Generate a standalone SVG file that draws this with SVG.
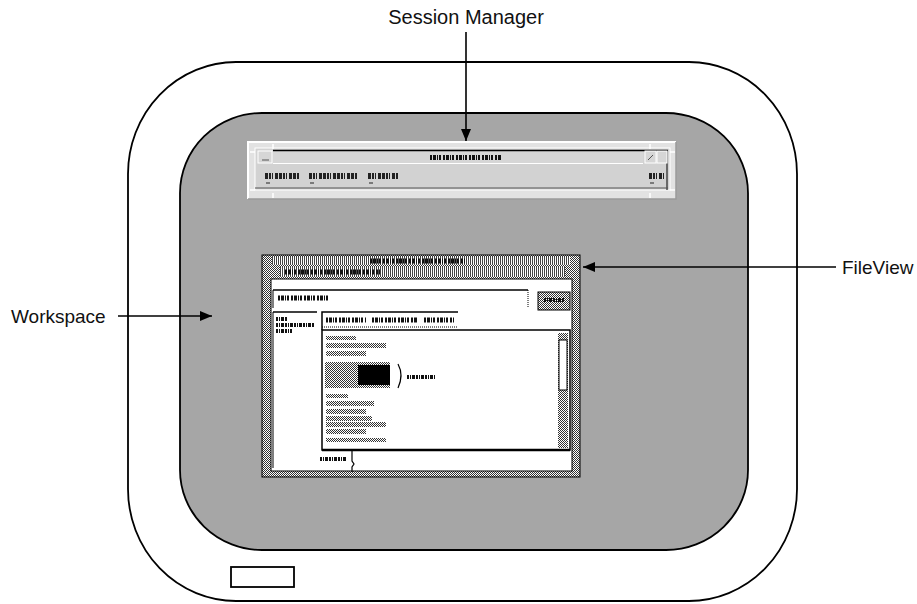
<svg xmlns="http://www.w3.org/2000/svg" width="917" height="604" viewBox="0 0 917 604">
<style>
.lbl{font-family:"Liberation Sans",Arial,sans-serif;font-size:19px;fill:#111}
.frame{fill:#fff;stroke:#000;stroke-width:1.8}
.ws{fill:#a6a6a6;stroke:#000;stroke-width:1.8}
.conn{stroke:#000;stroke-width:1.6;fill:none}
.tx{stroke:#222;stroke-width:6;stroke-dasharray:3,1,2,1,1,2,3,1;fill:none}
.tx5{stroke:#111;stroke-width:5;stroke-dasharray:2,1,3,1,1,1,2,2;fill:none}
.tx4{stroke:#111;stroke-width:4;stroke-dasharray:2,1,1,1,3,1;fill:none}
</style>
<defs>
<marker id="ah" viewBox="0 0 12 10" refX="12" refY="5" markerWidth="12" markerHeight="10" markerUnits="userSpaceOnUse" orient="auto">
<path d="M0,0 L12,5 L0,10 z" fill="#000"/>
</marker>
<pattern id="dith" width="2" height="2" patternUnits="userSpaceOnUse">
<rect width="2" height="2" fill="#fff"/>
<rect width="1" height="1" fill="#333"/>
<rect x="1" y="1" width="1" height="1" fill="#333"/>
</pattern>
<pattern id="vstripe" width="2" height="2" patternUnits="userSpaceOnUse">
<rect width="2" height="2" fill="#fff"/>
<rect width="1" height="2" fill="#444"/>
</pattern>
</defs>

<g id="display">
<rect class="frame" x="128" y="62" width="669" height="539" rx="108" ry="112"/>
<rect x="231" y="567" width="63" height="20" fill="#fff" stroke="#000" stroke-width="1.8"/>
</g>

<g id="workspace">
<rect class="ws" x="180" y="113" width="568" height="437" rx="82" ry="80"/>
</g>

<g id="session-manager">
<rect x="248" y="142" width="428" height="57" fill="#e2e2e2"/>
<path d="M248,199 V142 H676" stroke="#fff" stroke-width="2" fill="none"/>
<path d="M248,199 H676 V142" stroke="#9a9a9a" stroke-width="1.5" fill="none"/>
<rect x="255" y="148" width="415" height="42" fill="#d2d2d2" stroke="#fff" stroke-width="1"/>
<rect x="273" y="150" width="370" height="13" fill="#d6d6d6"/>
<line x1="273" y1="150.5" x2="668" y2="150.5" stroke="#000" stroke-width="1.3"/>
<line x1="667" y1="150" x2="667" y2="190" stroke="#000" stroke-width="1"/>
<rect x="258" y="151" width="14" height="12" fill="#d6d6d6" stroke="#fff" stroke-width="1"/>
<line x1="262" y1="160" x2="269" y2="160" stroke="#555" stroke-width="1"/>
<rect x="645" y="151" width="11" height="12" fill="#d6d6d6" stroke="#fff" stroke-width="1"/>
<rect x="657" y="151" width="10" height="12" fill="#d6d6d6" stroke="#fff" stroke-width="1"/>
<line x1="648" y1="160" x2="653" y2="155" stroke="#555" stroke-width="1"/>
<line x1="273" y1="163.5" x2="643" y2="163.5" stroke="#fff" stroke-width="1"/>
<line x1="255" y1="188" x2="668" y2="188" stroke="#555" stroke-width="1.2"/>
<line class="tx5" x1="430" y1="157.5" x2="502" y2="157.5"/>
<line class="tx" x1="265" y1="176" x2="299" y2="176"/>
<line class="tx" x1="309" y1="176" x2="357" y2="176"/>
<line class="tx" x1="368" y1="176" x2="398" y2="176"/>
<line class="tx" x1="649" y1="176" x2="664" y2="176"/>
<line x1="266" y1="183" x2="270" y2="183" stroke="#222"/>
<line x1="310" y1="183" x2="314" y2="183" stroke="#222"/>
<line x1="369" y1="183" x2="373" y2="183" stroke="#222"/>
<line x1="650" y1="183" x2="654" y2="183" stroke="#222"/>
<path d="M250,152 h5 M250,190 h5 M670,152 h5 M670,190 h5 M273,144 v5 M273,193 v5 M650,144 v5 M650,193 v5" stroke="#fff" stroke-width="1.5"/>
</g>

<g id="fileview">
<rect x="262" y="255" width="318" height="222" fill="url(#dith)" stroke="#000" stroke-width="1"/>
<rect x="272" y="257" width="298" height="8" fill="url(#vstripe)"/>
<rect x="280" y="267" width="285" height="10" fill="url(#vstripe)"/>
<line class="tx5" x1="370" y1="261" x2="465" y2="261"/>
<line class="tx5" x1="285" y1="272" x2="380" y2="272"/>
<rect x="271" y="279" width="301" height="192" fill="#fff" stroke="#000" stroke-width="1"/>
<line x1="273" y1="290" x2="528" y2="290" stroke="#000" stroke-width="1.5"/>
<line x1="273" y1="290" x2="273" y2="308" stroke="#000" stroke-width="1"/>
<line x1="528" y1="290" x2="528" y2="308" stroke="#000" stroke-width="1" stroke-dasharray="1,1"/>
<line class="tx5" x1="278" y1="298" x2="328" y2="298"/>
<rect x="538" y="292" width="32" height="18" fill="url(#dith)" stroke="#000" stroke-width="1"/>
<line class="tx4" x1="544" y1="300" x2="564" y2="300"/>
<line x1="273" y1="312" x2="317" y2="312" stroke="#000" stroke-width="1.5"/>
<line x1="273" y1="312" x2="273" y2="468" stroke="#000" stroke-width="1"/>
<line class="tx4" x1="276" y1="319" x2="288" y2="319"/>
<line class="tx4" x1="276" y1="325" x2="314" y2="325"/>
<line class="tx4" x1="276" y1="331" x2="292" y2="331"/>
<path d="M322,330 V312 H458" stroke="#000" stroke-width="1.5" fill="none"/>
<line x1="322" y1="327" x2="458" y2="327" stroke="#000" stroke-width="1" stroke-dasharray="1,1"/>
<line class="tx5" x1="326" y1="320" x2="366" y2="320"/>
<line class="tx5" x1="372" y1="320" x2="417" y2="320"/>
<line class="tx5" x1="424" y1="320" x2="454" y2="320"/>
<rect x="322" y="330" width="248" height="120" fill="#fff" stroke="#000" stroke-width="1.5"/>
<rect x="558" y="333" width="10" height="115" fill="url(#dith)"/>
<rect x="559" y="340" width="8" height="50" fill="#fff" stroke="#000" stroke-width="1"/>
<line x1="322" y1="450" x2="570" y2="450" stroke="#000" stroke-width="2.5"/>
<rect x="326" y="336" width="30" height="4" fill="url(#dith)"/>
<rect x="326" y="343" width="60" height="5" fill="url(#dith)"/>
<rect x="326" y="351" width="40" height="5" fill="url(#dith)"/>
<rect x="325" y="362" width="65" height="26" fill="url(#dith)"/>
<rect x="358" y="365" width="32" height="20" fill="#000"/>
<path d="M398,364 q6,11 0,24" stroke="#000" stroke-width="1.2" fill="none"/>
<line class="tx4" x1="407" y1="377" x2="435" y2="377"/>
<rect x="326" y="394" width="22" height="4" fill="url(#dith)"/>
<rect x="326" y="401" width="48" height="5" fill="url(#dith)"/>
<rect x="326" y="409" width="40" height="5" fill="url(#dith)"/>
<rect x="326" y="416" width="46" height="5" fill="url(#dith)"/>
<rect x="326" y="422" width="60" height="5" fill="url(#dith)"/>
<rect x="326" y="429" width="40" height="5" fill="url(#dith)"/>
<rect x="326" y="438" width="60" height="4" fill="url(#dith)"/>
<line class="tx4" x1="320" y1="459" x2="346" y2="459"/>
<path d="M352,451 v10 l2,3 l-2,3 v5" stroke="#000" stroke-width="1.2" fill="none"/>
</g>

<g id="connectors">
<line class="conn" x1="466" y1="32" x2="466" y2="141" marker-end="url(#ah)"/>
<line class="conn" x1="118" y1="316" x2="212" y2="316" marker-end="url(#ah)"/>
<line class="conn" x1="836" y1="267" x2="583" y2="267" marker-end="url(#ah)"/>
</g>

<g id="labels">
<text class="lbl" x="466" y="24" text-anchor="middle" style="font-size:20px">Session Manager</text>
<text class="lbl" x="11" y="323">Workspace</text>
<text class="lbl" x="842" y="274">FileView</text>
</g>
</svg>
